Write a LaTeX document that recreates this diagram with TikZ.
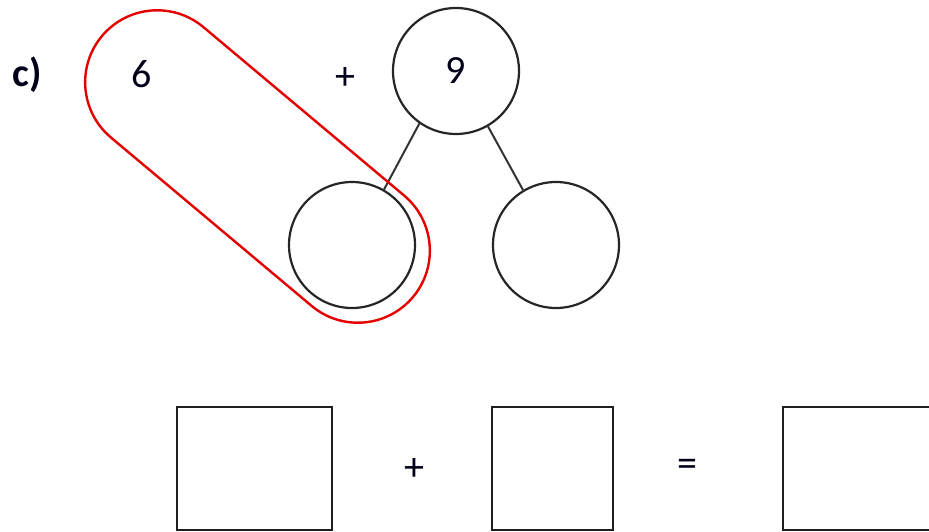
\documentclass[tikz,border=0pt]{standalone}
\usepackage{fontspec}
\setmainfont{Carlito}
\usepackage{tikz}

\begin{document}
\begin{tikzpicture}[
  x=1pt, y=1pt,
  sign/.style={inner sep=0, font=\fontsize{40}{44}\selectfont, text=black!90!blue},
  bubble/.style={draw=black!85, line width=2.2pt, circle, minimum size=126pt, inner sep=0, outer sep=0, sign},
  capsule/.style={draw=red!90!black, line width=2.4pt, rounded corners=72pt, minimum width=406pt, minimum height=144pt, inner sep=0, outer sep=0, rotate=-40},
  answer/.style={draw=black!88, line width=2.2pt, inner sep=0, minimum height=123pt},
  link/.style={draw=black!80, line width=2pt}
]
\useasboundingbox (0,0) rectangle (929,531);

\node[sign, font=\fontsize{40}{44}\selectfont\bfseries] (part) at (27,456) {c)};
\node[sign] (six) at (142,457) {6};
\node[sign] (plustop) at (345,452) {+};

% the number bond
\node[bubble] (nine) at (456,460) {9};
\node[bubble] (left) at (352,286) {};
\node[bubble] (right) at (556,286) {};
\draw[link] (nine.235) -- (left.60);
\draw[link] (nine.300) -- (right.121);

\node[capsule] (ring) at (257.5,364.5) {};

% sum row
\node[answer, minimum width=155pt] (first) at (254.5,62.5) {};
\node[sign] (plusbottom) at (414,61) {+};
\node[answer, minimum width=121pt] (second) at (552.5,62.5) {};
\node[sign] (equals) at (687,63) {=};
\node[answer, minimum width=170pt] (result) at (868,62.5) {};
\end{tikzpicture}
\end{document}
